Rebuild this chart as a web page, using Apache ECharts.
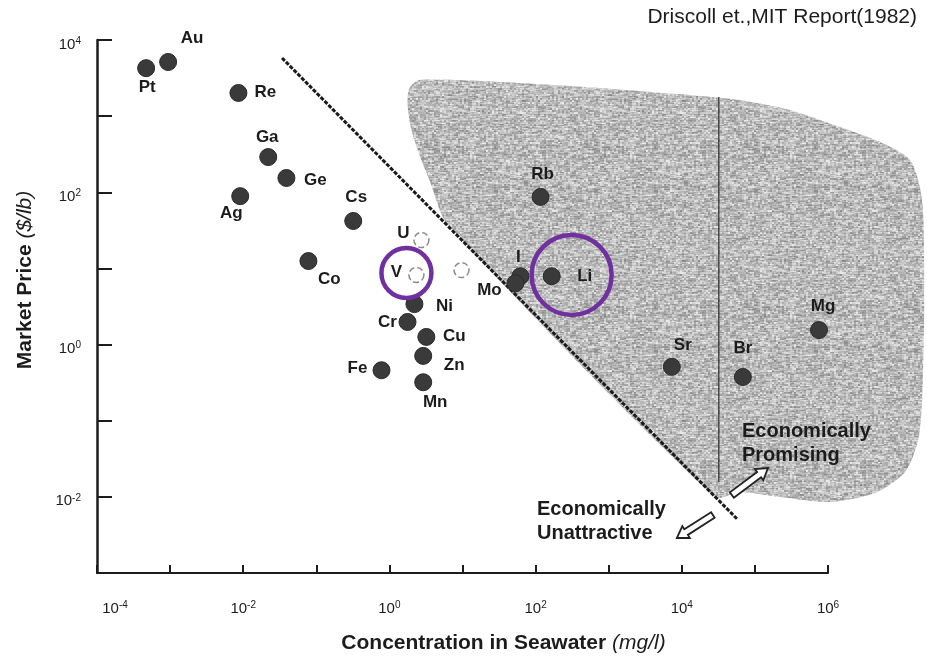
<!DOCTYPE html>
<html>
<head>
<meta charset="utf-8">
<script src="https://cdn.jsdelivr.net/npm/echarts@6/dist/echarts.min.js"></script>
<style>
  html, body { margin: 0; padding: 0; background: #fff; }
  #chart { width: 927px; height: 658px; }
</style>
</head>
<body>
<div id="chart"></div>
<script>
// Elements plotted as filled dots: concentration in seawater (mg/l) vs market price ($/lb)
const elements      = ['Au', 'Pt', 'Re', 'Ga', 'Ge', 'Ag', 'Cs', 'Co', 'Ni', 'Cr', 'Cu', 'Zn', 'Mn', 'Fe', 'I', 'Mo', 'Li', 'Rb', 'Sr', 'Br', 'Mg'];
const concentration = [0.00094, 0.00047, 0.0086, 0.022, 0.039, 0.0091, 0.32, 0.078, 2.2, 1.77, 3.2, 2.9, 2.9, 0.78, 62, 53, 166, 117, 7300, 68500, 753000];
const price         = [5140, 4270, 2015, 290, 154, 89, 42, 12.5, 3.4, 1.98, 1.26, 0.71, 0.32, 0.46, 7.9, 6.4, 7.9, 87, 0.51, 0.375, 1.55];

// Elements drawn as open circles
const openElements      = ['U', 'V', ''];
const openConcentration = [2.74, 2.34, 9.7];
const openPrice         = [23.6, 8.2, 9.5];

// Highlight rings
const ringConcentration = [1.71, 311];
const ringPrice         = [8.7, 8.2];

// Break-even diagonal and the vertical divider
const diagonalConcentration = [0.034, 58500];
const diagonalPrice         = [5800, 0.005];
const dividerConcentration  = [32100, 32100];
const dividerPrice          = [1780, 0.0157];

// Outline of the "economically promising" zone
const zoneConcentration = [6.24, 28300, 62400, 219800, 1.06e6, 4.41e6, 1.135e7, 1.71e7, 1.94e7, 2.07e7, 1.94e7, 1.33e7, 5.15e6, 1.46e6, 301000, 62400, 17700, 753, 32.1, 2.58, 1.88, 1.77, 2.0, 2.58, 3.53];
const zonePrice         = [38.3, 0.00995, 0.0116, 0.00995, 0.00855, 0.01125, 0.0212, 0.0558, 0.187, 3.85, 79.3, 265, 457, 719, 1205, 1629, 1841, 2344, 2805, 2985, 2344, 1400, 658, 309, 145];

// Arrows: tail -> tip
const arrowTailConcentration = [26600, 48400];
const arrowTailPrice         = [0.00577, 0.01057];
const arrowTipConcentration  = [8550, 150700];
const arrowTipPrice          = [0.00288, 0.0239];

// Tick label decades shown on each axis
const xLabelExponents = [-4, -2, 0, 2, 4, 6];
const yLabelExponents = [-2, 0, 2, 4];

// Label placement around each dot (px offset from the dot centre)
const labelOffset = {
  Au: [24, -24], Pt: [1, 19], Re: [27, -1], Ga: [-1, -20], Ge: [29, 2], Ag: [-9, 17],
  Cs: [3, -24], Co: [21, 18], Ni: [30, 2], Cr: [-20, 0], Cu: [28, -1], Zn: [31, 9],
  Mn: [12, 20], Fe: [-24, -2], I: [-2, -19], Mo: [-26, 7], Li: [33, 0], Rb: [2, -23],
  Sr: [11, -22], Br: [0, -29], Mg: [4, -24], U: [-18, -7], V: [-20, -3], '': [0, 0]
};
const ringSizes = [50, 80];

const FONT = '"Liberation Sans", Arial, Helvetica, sans-serif';
const INK = '#1c1c1c';

// Speckled grey fill for the shaded zone (deterministic hash grain with horizontal streaks)
function grainTile() {
  const size = 160;
  const cv = document.createElement('canvas');
  cv.width = size; cv.height = size;
  const ctx = cv.getContext('2d');
  const img = ctx.createImageData(size, size);
  const hash = (x, y) => {
    const s = Math.sin(x * 12.9898 + y * 78.233) * 43758.5453;
    return s - Math.floor(s);
  };
  for (let y = 0; y < size; y++) {
    for (let x = 0; x < size; x++) {
      const fine = hash(Math.floor(x / 2), Math.floor(y / 2)) - 0.5;
      const streak = hash(Math.floor(x / 6) + 311, y) - 0.5;
      let g = 186 + fine * 62 + streak * 44;
      g = Math.max(105, Math.min(238, g));
      const k = (y * size + x) * 4;
      img.data[k] = img.data[k + 1] = img.data[k + 2] = g;
      img.data[k + 3] = 255;
    }
  }
  ctx.putImageData(img, 0, 0);
  return cv;
}
const zoneFill = { image: grainTile(), repeat: 'repeat' };

// "10" with a raised exponent
const tickRich = {
  b: { fontFamily: FONT, fontSize: 15, color: INK, verticalAlign: 'middle' },
  s: { fontFamily: FONT, fontSize: 10, color: INK, verticalAlign: 'middle', padding: [0, 0, 7, 0] },
  p: { width: 36 }
};
function decade(v) { return Math.round(Math.log10(v)); }

const pointLabel = {
  show: true, position: 'inside', formatter: '{b}',
  fontFamily: FONT, fontSize: 17, fontWeight: 'bold', color: INK
};

const chart = echarts.init(document.getElementById('chart'), null, { renderer: 'canvas' });

chart.setOption({
  animation: false,
  backgroundColor: '#ffffff',
  grid: { left: 97, right: 99, top: 40, bottom: 85, containLabel: false, outerBoundsMode: 'none' },
  graphic: [
    { type: 'text', right: 10, top: 7, z: 50,
      style: { text: 'Driscoll et.,MIT Report(1982)', fontFamily: FONT, fontSize: 21, fill: INK } },
    { type: 'text', left: 537, top: 497, z: 50,
      style: { text: 'Economically\nUnattractive', fontFamily: FONT, fontSize: 20, fontWeight: 'bold', lineHeight: 24, fill: INK } },
    { type: 'text', left: 742, top: 419, z: 50,
      style: { text: 'Economically\nPromising', fontFamily: FONT, fontSize: 20, fontWeight: 'bold', lineHeight: 24, fill: INK } }
  ],
  xAxis: {
    type: 'log', logBase: 10, min: 1e-4, max: 1e6, splitNumber: 10,
    axisLine: { lineStyle: { color: INK, width: 2 } },
    axisTick: { inside: true, length: 8, lineStyle: { color: INK, width: 2 } },
    splitLine: { show: false },
    axisLabel: {
      margin: 27, rich: tickRich,
      formatter: function (v) {
        const e = decade(v);
        if (xLabelExponents.indexOf(e) < 0) return '';
        const pre = e === xLabelExponents[0] ? '{p| }' : '';
        return pre + '{b|10}{s|' + e + '}';
      }
    },
    name: '{b|Concentration in Seawater }{i|(mg/l)}',
    nameLocation: 'middle', nameGap: 60,
    nameTextStyle: {
      padding: [0, 0, 0, 82],
      rich: {
        b: { fontFamily: FONT, fontSize: 21, fontWeight: 'bold', color: INK },
        i: { fontFamily: FONT, fontSize: 21, fontStyle: 'italic', color: INK }
      }
    }
  },
  yAxis: {
    type: 'log', logBase: 10, min: 1e-3, max: 1e4, splitNumber: 7,
    axisLine: { lineStyle: { color: INK, width: 2.5 } },
    axisTick: { inside: true, length: 15, lineStyle: { color: INK, width: 2 } },
    splitLine: { show: false },
    axisLabel: {
      margin: 16, rich: tickRich, padding: [9, 0, 0, 0],
      formatter: function (v) {
        const e = decade(v);
        if (yLabelExponents.indexOf(e) < 0) return '';
        return '{b|10}{s|' + e + '}';
      }
    },
    name: '{b|Market Price }{i|($/lb)}',
    nameLocation: 'middle', nameRotate: 90, nameGap: 61,
    nameTextStyle: {
      padding: [0, 0, 0, 53],
      rich: {
        b: { fontFamily: FONT, fontSize: 21, fontWeight: 'bold', color: INK },
        i: { fontFamily: FONT, fontSize: 21, fontStyle: 'italic', color: INK }
      }
    }
  },
  series: [
    {
      // shaded zone
      type: 'custom', z: 1, silent: true, clip: false,
      data: zoneConcentration.map((c, i) => [c, zonePrice[i]]),
      renderItem: function (params, api) {
        if (params.dataIndex !== 0) return null;
        const pts = zoneConcentration.map((c, i) => api.coord([c, zonePrice[i]]));
        return { type: 'polygon', shape: { points: pts, smooth: 0.25 }, style: { fill: zoneFill } };
      }
    },
    {
      // vertical divider
      type: 'line', z: 2, silent: true, symbol: 'none',
      data: dividerConcentration.map((c, i) => [c, dividerPrice[i]]),
      lineStyle: { color: '#333', width: 1.3 }
    },
    {
      // break-even diagonal
      type: 'line', z: 3, silent: true, symbol: 'none',
      data: diagonalConcentration.map((c, i) => [c, diagonalPrice[i]]),
      lineStyle: { color: '#1a1a1a', width: 3, type: [4, 1.5] }
    },
    {
      // outlined arrows
      type: 'custom', z: 4, silent: true, clip: false,
      encode: { x: [0, 2], y: [1, 3] },
      data: arrowTailConcentration.map((c, i) => [c, arrowTailPrice[i], arrowTipConcentration[i], arrowTipPrice[i]]),
      renderItem: function (params, api) {
        const a = api.coord([api.value(0), api.value(1)]);
        const b = api.coord([api.value(2), api.value(3)]);
        const dx = b[0] - a[0], dy = b[1] - a[1];
        const L = Math.hypot(dx, dy), ux = dx / L, uy = dy / L, nx = -uy, ny = ux;
        const w = 3.3, h = 7, hl = 11;
        const P = (u, v) => [a[0] + ux * u + nx * v, a[1] + uy * u + ny * v];
        return {
          type: 'polygon',
          shape: { points: [P(0, w), P(L - hl, w), P(L - hl, h), P(L, 0), P(L - hl, -h), P(L - hl, -w), P(0, -w)] },
          style: { fill: '#ffffff', stroke: '#222', lineWidth: 1.8 }
        };
      }
    },
    {
      // open circles
      type: 'scatter', z: 5, silent: true,
      symbol: 'circle', symbolSize: 15,
      itemStyle: { color: '#ffffff', borderColor: '#8c8c8c', borderWidth: 1.5, borderType: 'dashed', opacity: 1 },
      label: pointLabel,
      data: openElements.map((n, i) => ({ name: n, value: [openConcentration[i], openPrice[i]], label: { offset: labelOffset[n] } }))
    },
    {
      // filled element dots
      type: 'scatter', z: 6, silent: true,
      symbol: 'circle', symbolSize: 17,
      itemStyle: { color: '#3a3a3a', borderColor: '#2a2a2a', borderWidth: 1, opacity: 1 },
      label: pointLabel,
      data: elements.map((n, i) => ({ name: n, value: [concentration[i], price[i]], label: { offset: labelOffset[n] } }))
    },
    {
      // highlight rings
      type: 'scatter', z: 7, silent: true,
      symbol: 'circle',
      symbolSize: function (val, params) { return ringSizes[params.dataIndex]; },
      itemStyle: { color: 'rgba(0,0,0,0)', borderColor: '#7030A0', borderWidth: 4.5, opacity: 1 },
      data: ringConcentration.map((c, i) => [c, ringPrice[i]])
    }
  ]
});
</script>
</body>
</html>
